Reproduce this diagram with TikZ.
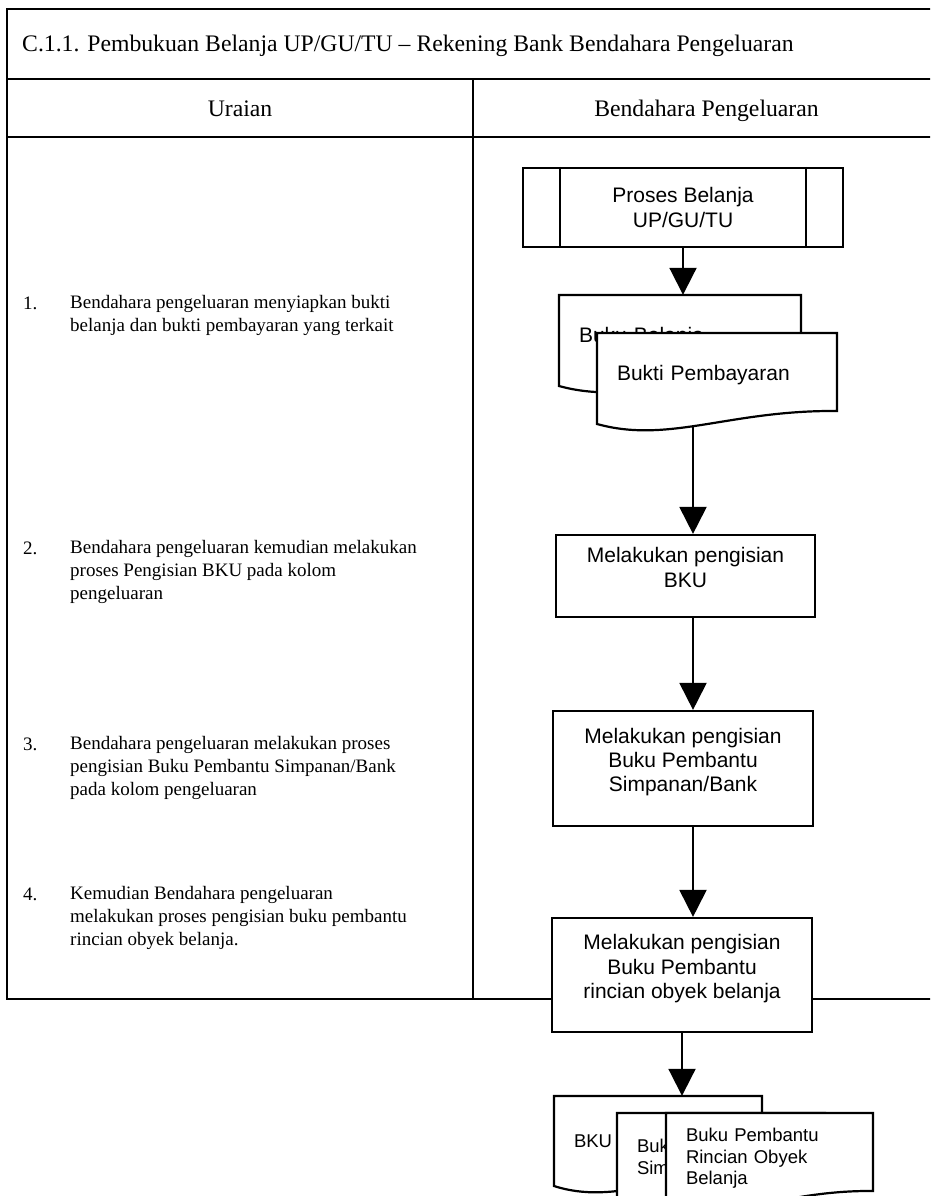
\documentclass[tikz,border=0pt]{standalone}
\usepackage{fontspec}
\setmainfont{Liberation Serif}
\newfontfamily\arialfont{Liberation Sans}
\usepackage{tikz}
\usetikzlibrary{arrows.meta,positioning,calc}
\tikzset{
    garisTabel/.style={line width=2.5pt},
    kotak/.style={
        rectangle,
        draw,
        fill=white,
        line width=2.2pt,
        align=center,
        inner sep=0pt,
        font=\arialfont\fontsize{21}{24.3}\selectfont
    },
    langkah/.style={kotak, text depth=17pt},
    subproses/.style={kotak},
    garisDok/.style={draw, fill=white, line width=2.2pt},
    dokteks/.style={
        rectangle,
        align=left,
        inner xsep=20pt,
        inner ysep=0pt,
        font=\arialfont\fontsize{21}{24.3}\selectfont
    },
    dokatas/.style={text depth=12pt},
    dokkecil/.style={font=\arialfont\fontsize{18.5}{21.5}\selectfont},
    panah/.style={-{Triangle[length=27pt,width=27pt]}, line width=2pt},
    judul/.style={inner sep=0pt, font=\fontsize{23.7}{28}\selectfont},
    nomor/.style={anchor=north west, inner sep=0pt, font=\fontsize{19}{23}\selectfont},
    uraian/.style={nomor, align=left}
}
% dokumen: [gaya] nama, x, y, lebar, tinggi, teks
\newcommand{\dokumen}[7][]{%
    \pgfmathsetmacro{\lebarteks}{#5-40}
    \path[garisDok] (#3,#4) -- (#3+#5,#4) -- (#3+#5,#4+#6-13)
        .. controls (#3+0.55*#5,#4+#6-14) and (#3+0.3*#5,#4+#6+20) .. (#3,#4+#6) -- cycle;
    \node[dokteks, #1, text width=\lebarteks pt, minimum height=#6] (#2) at (#3+#5/2,#4+#6/2) {#7};
}

\begin{document}
\begin{tikzpicture}[x=1pt, y=-1pt]
    \useasboundingbox (0,0) rectangle (930,1196);
    \clip (0,0) rectangle (930,1196);

    % tabel
    \draw[garisTabel] (7,9) rectangle (940,999);
    \draw[garisTabel] (7,79) -- (940,79);
    \draw[garisTabel] (7,137) -- (940,137);
    \draw[garisTabel] (473,79) -- (473,999);

    \node[judul, anchor=base west] (judul) at (22,52) {C.1.1. Pembukuan Belanja UP/GU/TU -- Rekening Bank Bendahara Pengeluaran};
    \node[judul, anchor=base] (kolUraian) at (240,117) {Uraian};
    \node[judul, anchor=base] (kolBendahara) at (706.5,117) {Bendahara Pengeluaran};

    % uraian
    \node[nomor] (no1) at (23,296.5) {1.};
    \node[uraian] (ur1) at (70,295) {Bendahara pengeluaran menyiapkan bukti\\belanja dan bukti pembayaran yang terkait};
    \node[nomor] (no2) at (23,541.5) {2.};
    \node[uraian] (ur2) at (70,540) {Bendahara pengeluaran kemudian melakukan\\proses Pengisian BKU pada kolom\\pengeluaran};
    \node[nomor] (no3) at (23,737.5) {3.};
    \node[uraian] (ur3) at (70,736) {Bendahara pengeluaran melakukan proses\\pengisian Buku Pembantu Simpanan/Bank\\pada kolom pengeluaran};
    \node[nomor] (no4) at (23,887.5) {4.};
    \node[uraian] (ur4) at (70,886) {Kemudian Bendahara pengeluaran\\melakukan proses pengisian buku pembantu\\rincian obyek belanja.};

    % alur
    \node[subproses, minimum width=320, minimum height=79] (proses) at (683,207.5) {Proses Belanja\\UP/GU/TU};
    \draw[line width=2.2pt] ([xshift=38pt]proses.north west) -- ([xshift=38pt]proses.south west);
    \draw[line width=2.2pt] ([xshift=-38pt]proses.north east) -- ([xshift=-38pt]proses.south east);

    \dokumen[dokatas]{bukuBelanja}{559}{295}{242}{91}{Buku Belanja}
    \dokumen[dokatas]{buktiBayar}{597}{333}{240}{91}{Bukti Pembayaran}

    \node[langkah, minimum width=259, minimum height=82] (isiBKU) at (685.5,576) {Melakukan pengisian\\BKU};
    \node[langkah, minimum width=260, minimum height=115] (isiSimpanan) at (683,768.5) {Melakukan pengisian\\Buku Pembantu\\Simpanan/Bank};
    \node[langkah, minimum width=260, minimum height=114] (isiRincian) at (682,975) {Melakukan pengisian\\Buku Pembantu\\rincian obyek belanja};

    \dokumen[dokkecil]{dokBKU}{554}{1096}{208}{90}{BKU}
    \dokumen[dokkecil]{dokSimpanan}{617}{1113}{208}{91}{Buku Pembantu\\Simpanan/Bank}
    \dokumen[dokkecil]{dokRincian}{666}{1113}{207}{91}{Buku Pembantu\\Rincian Obyek\\Belanja}

    \coordinate (jalur) at (693,0);
    \coordinate (awal) at ($(buktiBayar.south -| jalur)+(0,2)$);

    \draw[panah] (proses.south) -- (proses.south |- bukuBelanja.north);
    \draw[panah] (awal) -- (isiBKU.north -| jalur);
    \draw[panah] (isiBKU.south -| jalur) -- (isiSimpanan.north -| jalur);
    \draw[panah] (isiSimpanan.south -| jalur) -- (isiRincian.north -| jalur);
    \draw[panah] (isiRincian.south) -- (isiRincian.south |- dokBKU.north);
\end{tikzpicture}
\end{document}
